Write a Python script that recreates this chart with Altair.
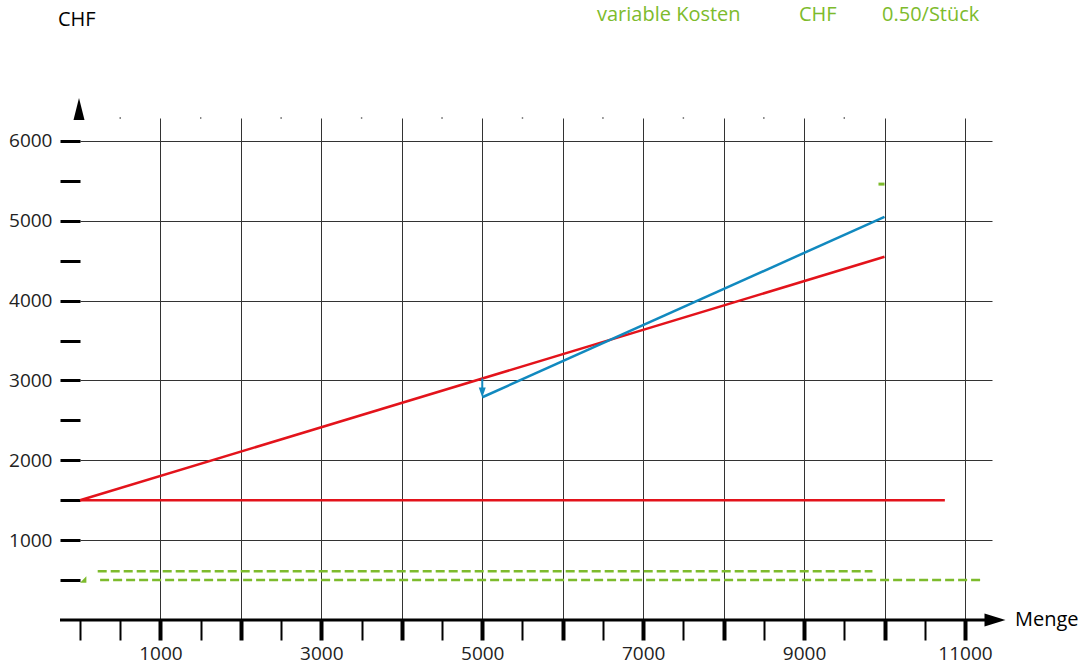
import altair as alt
import pandas as pd

# Scale extents (data units) of the plotting area
X_MAX = 11336
Y_MAX = 6288

# Cost / revenue lines (Menge -> CHF)
fixed_x = [0, 10750]
fixed_y = [1500, 1500]
total_x = [0, 10000]
total_y = [1500, 4550]
revenue_x = [5000, 10000]
revenue_y = [2790, 5050]
drop_x = [5000, 5000]
drop_y = [3025, 2850]
var_upper_x = [220, 9850]
var_upper_y = [610, 610]
var_lower_x = [250, 11200]
var_lower_y = [500, 500]
marker_x = [9925, 10000]
marker_y = [5460, 5460]

# Tick positions
x_ticks = list(range(0, 11001, 500))
y_ticks = list(range(500, 6001, 500))
top_dots = list(range(500, 9501, 1000))

FONT = "Open Sans"
RED = "#e3131b"
BLUE = "#1189bf"
GREEN = "#7dbb2c"

xs = alt.Scale(domain=[0, X_MAX], nice=False, zero=False)
ys = alt.Scale(domain=[0, Y_MAX], nice=False, zero=False)

major_x = "datum.value > 0 && datum.value % 1000 == 0"
x_axis = alt.Axis(
    values=x_ticks, format="d", title=None, domain=False,
    labelExpr="datum.value % 2000 == 1000 ? datum.label : ''",
    labelOverlap=False, labelFlush=False,
    labelFont=FONT, labelFontSize=19, labelColor="#222", labelPadding=4,
    tickSize=20, tickColor="black",
    tickWidth={"condition": {"test": major_x, "value": 4}, "value": 2},
    grid=True, gridColor="#333", gridWidth=1,
    gridOpacity={"condition": {"test": major_x, "value": 1}, "value": 0},
)
y_axis = alt.Axis(
    values=y_ticks, format="d", title=None, domain=False,
    labelExpr="datum.value % 1000 == 0 ? datum.label : ''",
    labelOverlap=False, labelFlush=False,
    labelFont=FONT, labelFontSize=19, labelColor="#222", labelPadding=8,
    tickSize=20, tickColor="black", tickWidth=3,
    grid=True, gridColor="#333", gridWidth=1,
    gridOpacity={"condition": {"test": "datum.value % 1000 == 0", "value": 1}, "value": 0},
)


def enc_x():
    return alt.X("x:Q", scale=xs, axis=x_axis)


def enc_y():
    return alt.Y("y:Q", scale=ys, axis=y_axis)


def line(xv, yv, color, width=2.5, dash=None):
    df = pd.DataFrame({"x": xv, "y": yv})
    kw = dict(color=color, strokeWidth=width, clip=False)
    if dash:
        kw["strokeDash"] = dash
    return alt.Chart(df).mark_line(**kw).encode(x=enc_x(), y=enc_y())


one = pd.DataFrame({"a": [0]})

# x-axis line extending left of the origin, and the arrowheads
x_axis_line = alt.Chart(one).mark_rule(color="black", strokeWidth=3).encode(
    x=alt.value(-20), x2=alt.value(910), y=alt.value(502)
)
x_arrow = alt.Chart(one).mark_point(
    shape="M-1,-0.62L1,0L-1,0.62Z", filled=True, color="black", opacity=1, size=441, strokeWidth=0
).encode(x=alt.value(915), y=alt.value(502))
y_arrow = alt.Chart(one).mark_point(
    shape="M0,-1L0.5,1L-0.5,1Z", filled=True, color="black", opacity=1, size=484, strokeWidth=0
).encode(x=alt.value(-1), y=alt.value(-9))

dots = alt.Chart(pd.DataFrame({"x": top_dots, "y": [Y_MAX] * len(top_dots)})).mark_square(
    size=2, color="#555", opacity=1
).encode(x=enc_x(), y=enc_y())

drop_head = alt.Chart(pd.DataFrame({"x": [drop_x[1]], "y": [drop_y[1]]})).mark_point(
    shape="M-0.7,-1L0.7,-1L0,1Z", filled=True, color=BLUE, opacity=1, size=100, strokeWidth=0
).encode(x=enc_x(), y=enc_y())

green_tri = alt.Chart(pd.DataFrame({"x": [40], "y": [507]})).mark_point(
    shape="M-1,1L1,1L1,-1Z", filled=True, color=GREEN, opacity=1, size=40, strokeWidth=0
).encode(x=enc_x(), y=enc_y())


def label(text, x, y, color="black", size=20):
    return alt.Chart(pd.DataFrame({"t": [text]})).mark_text(
        font=FONT, fontSize=size, color=color, align="left", baseline="middle"
    ).encode(x=alt.value(x), y=alt.value(y), text="t:N")


chart = alt.layer(
    line(fixed_x, fixed_y, RED),
    line(total_x, total_y, RED),
    line(revenue_x, revenue_y, BLUE),
    line(drop_x, drop_y, BLUE, width=2),
    line(var_upper_x, var_upper_y, GREEN, width=2.5, dash=[9, 4]),
    line(var_lower_x, var_lower_y, GREEN, width=2.5, dash=[9, 4]),
    line(marker_x, marker_y, GREEN, width=3),
    drop_head,
    green_tri,
    dots,
    x_axis_line,
    x_arrow,
    y_arrow,
    label("CHF", -22, -98),
    label("Menge", 935, 502),
    label("variable Kosten", 517, -103, GREEN),
    label("CHF", 719, -103, GREEN),
    label("0.50/Stück", 802, -103, GREEN),
).properties(
    width=912,
    height=502,
    autosize=alt.AutoSizeParams(type="none"),
    padding={"left": 80, "top": 118, "right": 98, "bottom": 47},
).configure_view(stroke=None)

chart.save("out.html", embed_options={"renderer": "svg", "actions": False})
